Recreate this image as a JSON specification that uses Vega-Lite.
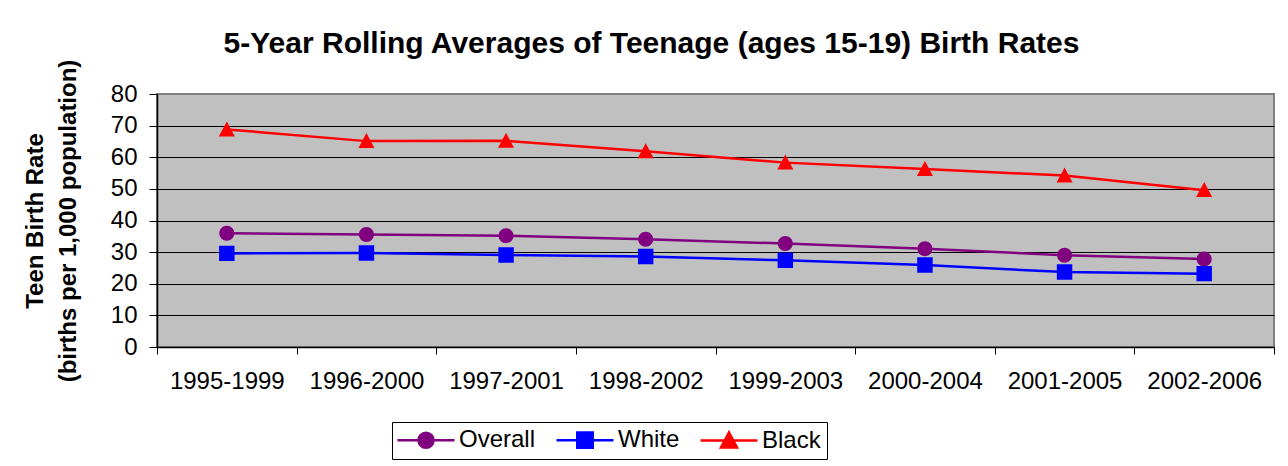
{
  "$schema": "https://vega.github.io/schema/vega-lite/v6.json",
  "autosize": "none",
  "width": 1117,
  "height": 253,
  "padding": {"left": 157, "top": 94, "right": 14, "bottom": 119},
  "background": "white",
  "title": {
    "text": "5-Year Rolling Averages of Teenage (ages 15-19) Birth Rates",
    "font": "Liberation Sans",
    "fontSize": 30,
    "fontWeight": "bold",
    "color": "black",
    "anchor": "middle",
    "dx": -64,
    "offset": 0
  },
  "config": {
    "view": {"fill": "#C0C0C0", "stroke": "#808080", "strokeWidth": 2},
    "axis": {
      "labelFont": "Liberation Sans",
      "labelFontSize": 24,
      "labelColor": "black",
      "titleFont": "Liberation Sans",
      "titleColor": "black",
      "domainColor": "black",
      "domainWidth": 1.5,
      "tickColor": "black",
      "tickWidth": 1
    }
  },
  "data": {
    "values": [
      {"period": "1995-1999", "series": "Overall", "value": 36.0},
      {"period": "1996-2000", "series": "Overall", "value": 35.6},
      {"period": "1997-2001", "series": "Overall", "value": 35.2},
      {"period": "1998-2002", "series": "Overall", "value": 34.1},
      {"period": "1999-2003", "series": "Overall", "value": 32.7},
      {"period": "2000-2004", "series": "Overall", "value": 31.1},
      {"period": "2001-2005", "series": "Overall", "value": 29.0},
      {"period": "2002-2006", "series": "Overall", "value": 27.8},
      {"period": "1995-1999", "series": "White", "value": 29.6},
      {"period": "1996-2000", "series": "White", "value": 29.7},
      {"period": "1997-2001", "series": "White", "value": 29.1},
      {"period": "1998-2002", "series": "White", "value": 28.6},
      {"period": "1999-2003", "series": "White", "value": 27.4},
      {"period": "2000-2004", "series": "White", "value": 25.9},
      {"period": "2001-2005", "series": "White", "value": 23.7},
      {"period": "2002-2006", "series": "White", "value": 23.2},
      {"period": "1995-1999", "series": "Black", "value": 68.8},
      {"period": "1996-2000", "series": "Black", "value": 65.1},
      {"period": "1997-2001", "series": "Black", "value": 65.2},
      {"period": "1998-2002", "series": "Black", "value": 61.9},
      {"period": "1999-2003", "series": "Black", "value": 58.3},
      {"period": "2000-2004", "series": "Black", "value": 56.3},
      {"period": "2001-2005", "series": "Black", "value": 54.2},
      {"period": "2002-2006", "series": "Black", "value": 49.6}
    ]
  },
  "encoding": {
    "x": {
      "field": "period",
      "type": "ordinal",
      "sort": null,
      "scale": {"type": "band", "paddingInner": 0, "paddingOuter": 0},
      "axis": {
        "title": null,
        "labelAngle": 0,
        "tickBand": "extent",
        "tickSize": 7,
        "labelPadding": 15,
        "grid": false
      }
    },
    "y": {
      "field": "value",
      "type": "quantitative",
      "scale": {"domain": [0, 80], "nice": false},
      "axis": {
        "values": [0, 10, 20, 30, 40, 50, 60, 70, 80],
        "title": ["Teen Birth Rate", "(births per 1,000 population)"],
        "titleFontSize": 24,
        "titleFontWeight": "bold",
        "titleLineHeight": 33,
        "titlePadding": 30,
        "tickSize": 8,
        "labelPadding": 12,
        "grid": true,
        "gridColor": {"condition": {"test": "datum.value === 80", "value": "#808080"}, "value": "black"},
        "gridOpacity": 1,
        "gridWidth": 1
      }
    },
    "color": {
      "field": "series",
      "type": "nominal",
      "scale": {"domain": ["Overall", "White", "Black"], "range": ["#800080", "#0000FF", "#FF0000"]},
      "legend": {
        "title": null,
        "orient": "none",
        "legendX": 235,
        "legendY": 328,
        "direction": "horizontal",
        "padding": 6,
        "strokeColor": "black",
        "fillColor": "white",
        "labelFont": "Liberation Sans",
        "labelFontSize": 24,
        "labelColor": "black",
        "columnPadding": 15,
        "symbolSize": 225,
        "symbolOffset": 16,
        "labelOffset": 21,
        "symbolStrokeWidth": 2.5,
        "encode": {
          "symbols": {
            "update": {
              "stroke": {"signal": "datum.value === 'Overall' ? '#800080' : datum.value === 'White' ? '#0000FF' : '#FF0000'"},
              "strokeWidth": {"value": 2.5},
              "opacity": {"value": 1},
              "fillOpacity": {"value": 1},
              "strokeOpacity": {"value": 1}
            }
          }
        }
      }
    }
  },
  "layer": [
    {"mark": {"type": "line", "strokeWidth": 2.5}},
    {
      "mark": {"type": "point", "filled": true, "opacity": 1, "size": 225},
      "encoding": {
        "shape": {
          "field": "series",
          "type": "nominal",
          "scale": {
            "domain": ["Overall", "White", "Black"],
            "range": [
              "M-3.8,0H3.8M-1,0A1,1 0 1,0 1,0A1,1 0 1,0 -1,0Z",
              "M-3.8,0H3.8M-1.03,-1.03H1.03V1.03H-1.03Z",
              "M-3.8,0H3.8M0,-1.07L1.07,0.93L-1.07,0.93Z"
            ]
          },
          "legend": null
        }
      }
    }
  ]
}
